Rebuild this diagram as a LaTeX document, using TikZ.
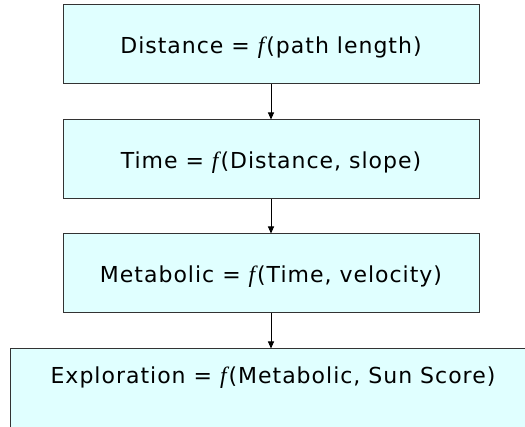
\documentclass[tikz,border=0pt]{standalone}
\usepackage{fontspec}
\setmainfont{DejaVu Sans}
\newfontfamily\vfont[LetterSpace=4.5]{DejaVu Sans}
\newfontfamily\tnr{Liberation Serif}
\usetikzlibrary{arrows.meta}
\definecolor{boxfill}{HTML}{E0FFFF}
\definecolor{boxline}{HTML}{333333}
\tikzset{
  flowbox/.style={draw=boxline, line width=1pt, fill=boxfill, minimum width=416pt, minimum height=79pt, inner sep=0pt, text height=19pt, text depth=0pt, font=\vfont\fontsize{22}{26}\selectfont},
  flowarrow/.style={line width=0.9pt, -{Triangle[length=7pt,width=6pt]}},
  txt/.style={inner sep=0pt, font=\vfont\fontsize{22}{26}\selectfont}
}
\newcommand{\ff}{{\tnr\itshape\fontsize{23.5}{26}\selectfont f\kern2pt}}
\begin{document}
\begin{tikzpicture}[x=1pt,y=-1pt]
\useasboundingbox (0,0) rectangle (525,427);
\clip (0,0) rectangle (525,427);
\node[flowbox] (b1) at (271,44.5) {Distance = \ff(path length)};
\node[flowbox] (b2) at (271,159.5) {Time = \ff(Distance, slope)};
\node[flowbox] (b3) at (271,273.5) {Metabolic = \ff(Time, velocity)};
\node[draw=boxline, line width=1pt, fill=boxfill, minimum width=529.5pt, minimum height=91pt, inner sep=0pt] (b4) at (275.25,394.5) {};
\node[txt, anchor=base] (t4) at (273,384) {Exploration = \ff(Metabolic, Sun Score)};
\draw[flowarrow] (b1.south) -- (b2.north);
\draw[flowarrow] (b2.south) -- (b3.north);
\draw[flowarrow] (b3.south) -- (b3.south |- b4.north);
\end{tikzpicture}
\end{document}
